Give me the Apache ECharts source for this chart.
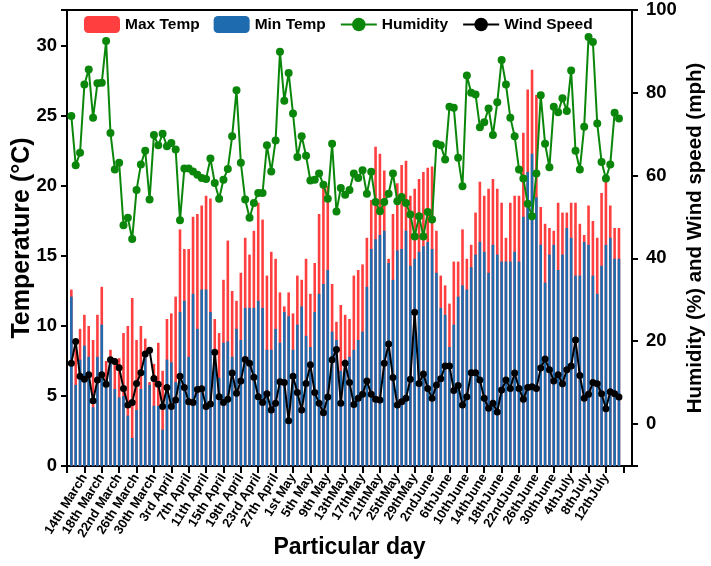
<!DOCTYPE html>
<html><head><meta charset="utf-8">
<script src="https://cdn.jsdelivr.net/npm/echarts@6/dist/echarts.min.js"></script>
<style>html,body{margin:0;padding:0;background:#fff}#c{width:711px;height:566px}</style>
</head><body><div id="c"></div>
<script>
const tickLabels = ["14th March","18th March","22nd March","26th March","30th March","3rd April","7th April","11th April","15th April","19th April","23rd April","27th April","1st May","5th May","9th May","13thMay","17thMay","21thMay","25thMay","29thMay","2ndJune","6thJune","10thJune","14thJune","18thJune","22ndJune","26thJune","30thJune","4thJuly","8thJuly","12thJuly"];
// daily values, 11 March .. 15 July
const maxTemp = [12.6,9.0,9.8,10.8,10.0,9.0,10.8,12.8,7.5,8.3,
 7.7,7.7,9.5,10.0,12.0,9.0,10.0,9.1,6.0,7.3,
 8.8,6.8,10.5,10.9,12.1,16.9,15.5,15.5,17.8,18.0,
 18.6,19.3,19.1,10.5,9.5,13.3,16.1,12.5,11.8,13.8,
 16.3,15.1,16.8,18.8,17.6,13.6,15.3,14.8,12.4,11.4,
 12.4,10.9,13.6,13.3,14.8,12.3,14.5,18.0,20.0,20.0,
 13.0,10.3,11.5,10.8,10.5,13.6,14.0,14.4,16.3,19.0,
 22.8,22.3,21.1,14.8,18.0,20.2,21.5,21.8,19.3,19.8,
 20.5,21.0,21.3,21.4,16.8,13.6,12.9,11.6,14.6,14.6,
 16.9,14.8,15.8,18.1,20.3,19.3,19.8,20.5,19.8,18.8,
 16.3,18.8,19.3,19.3,23.8,26.9,28.3,26.5,18.5,17.3,
 17.0,16.8,18.8,18.1,18.1,18.8,18.8,17.3,16.5,18.6,
 17.5,16.3,19.5,20.5,18.6,17.0,17.0];
const minTemp = [12.1,5.8,7.6,8.6,7.8,4.2,7.8,10.1,6.1,7.6,
 5.5,4.9,5.0,3.6,2.0,4.0,5.5,7.9,5.8,4.3,
 4.3,2.6,7.6,7.4,6.0,11.0,11.8,7.8,12.3,9.8,
 12.6,12.6,11.0,8.3,6.3,8.8,8.9,7.8,9.8,9.0,
 11.3,11.3,11.3,11.8,11.3,8.3,8.3,9.8,8.8,11.0,
 10.7,8.3,10.1,11.4,9.3,8.5,11.0,12.3,13.0,14.0,
 9.6,9.0,6.8,7.6,7.8,8.3,9.0,9.6,12.8,15.5,
 16.2,16.5,16.8,14.5,13.3,15.4,15.5,16.8,14.3,14.8,
 15.3,15.7,16.0,15.5,13.8,11.3,10.8,8.5,10.1,12.1,
 12.9,12.6,14.2,15.1,16.0,15.3,13.8,15.8,15.1,14.6,
 14.6,14.6,15.3,14.6,17.8,21.0,22.3,19.2,15.8,13.1,
 15.1,15.8,14.0,15.1,17.0,16.3,13.6,13.6,16.0,15.8,
 13.6,12.3,14.3,15.8,16.3,14.8,14.8];
const humidity = [74.4,62.5,65.5,82.0,85.6,74.0,82.3,82.4,92.5,70.3,
 61.5,63.1,48.0,49.8,44.7,56.5,62.7,66.0,54.2,69.8,
 67.3,70.1,67.1,67.9,66.3,49.2,61.7,61.7,61.0,60.2,
 59.4,59.2,64.1,58.2,54.4,59.0,61.6,69.5,80.6,63.1,
 54.2,49.8,53.4,55.8,55.8,67.3,61.0,68.5,89.9,78.1,
 84.8,75.0,64.5,69.5,64.8,58.8,59.0,60.5,57.8,54.4,
 67.7,51.3,57.0,55.4,56.5,60.5,59.4,61.3,55.6,60.9,
 53.6,51.4,53.6,55.6,60.5,53.8,54.8,53.4,50.6,45.3,
 50.2,45.3,51.2,49.4,67.7,67.3,63.9,76.6,76.4,64.3,
 57.4,84.2,80.0,79.6,71.7,72.9,76.2,69.8,77.7,87.9,
 82.0,74.0,69.5,61.5,59.3,53.2,50.2,60.5,79.4,67.7,
 62.0,76.6,75.3,78.7,75.6,85.4,66.0,61.5,71.8,93.5,
 92.3,72.6,63.3,59.3,62.7,75.2,73.8];
const windSpeed = [14.7,19.9,11.5,10.8,11.9,5.6,10.6,11.9,9.6,15.5,
 15.1,13.6,8.6,4.6,5.2,9.8,12.4,16.9,17.8,11.0,
 9.6,4.2,8.8,4.2,5.8,11.5,8.8,5.4,5.2,8.3,
 8.5,4.2,4.8,17.3,6.6,5.2,6.0,12.3,7.4,10.4,
 15.6,14.7,11.3,6.6,5.2,7.3,3.4,5.0,10.2,10.0,
 0.8,11.5,7.6,3.4,9.8,14.3,7.6,5.0,2.7,6.5,
 15.5,18.0,5.0,14.7,10.0,4.7,6.2,7.2,10.4,7.2,
 6.0,5.8,14.7,19.3,11.2,4.6,5.4,6.2,10.8,27.0,
 9.8,12.1,8.6,6.2,9.4,10.9,14.0,14.0,8.1,9.3,
 4.6,6.6,12.4,12.4,10.6,6.2,3.8,5.0,2.9,8.2,
 10.6,8.6,12.3,8.6,6.0,8.8,9.0,8.6,13.5,15.7,
 13.1,10.4,11.9,9.7,13.1,14.0,20.3,11.7,6.2,7.2,
 10.0,9.7,7.3,3.7,7.8,7.3,6.5];

// axis categories: every day from 10 March to 18 July
const monthSpans = [['March',10,31],['April',1,30],['May',1,31],['June',1,30],['July',1,18]];
const categories = [];
monthSpans.forEach(function(s){ for (let d = s[1]; d <= s[2]; d++) categories.push(d + ' ' + s[0]); });
const pad = arr => ['-'].concat(arr);

const FONT = '"Liberation Sans", Arial, Helvetica, sans-serif';
const bold = (size) => ({fontSize: size, fontWeight: 'bold', color: '#000', fontFamily: FONT});

const chart = echarts.init(document.getElementById('c'), null, {renderer: 'canvas'});
chart.setOption({
  animation: false,
  backgroundColor: '#fff',
  grid: {left: 67, right: 79, top: 10, bottom: 100, containLabel: false, outerBoundsMode: 'none',
         show: true, borderColor: '#000', borderWidth: 2},
  legend: {
    top: 11, left: 79, itemWidth: 36, itemHeight: 17, itemGap: 14,
    textStyle: bold(15.5),
    data: ['Max Temp', 'Min Temp', 'Humidity', 'Wind Speed']
  },
  xAxis: {
    type: 'category', data: categories, boundaryGap: false,
    axisLine: {lineStyle: {color: '#000', width: 2}},
    axisTick: {interval: 3, length: 7, lineStyle: {color: '#000', width: 2}},
    axisLabel: Object.assign(bold(13), {
      interval: 3, rotate: 58, margin: 9,
      formatter: function (v, i) { return (i % 4 === 0 && i >= 4 && i / 4 <= tickLabels.length) ? tickLabels[i / 4 - 1] : ''; }
    }),
    splitLine: {show: false},
    name: 'Particular day', nameLocation: 'middle', nameGap: 70, nameMoveOverlap: false, nameTextStyle: bold(23)
  },
  yAxis: [{
    type: 'value', position: 'left', min: 0, max: 32.57, interval: 5,
    axisLine: {show: true, lineStyle: {color: '#000', width: 2}},
    axisTick: {show: true, length: 6, lineStyle: {color: '#000', width: 2}},
    axisLabel: Object.assign(bold(18.5), {margin: 10, formatter: v => (v % 5 === 0 && v <= 30) ? String(v) : ''}),
    splitLine: {show: false},
    name: 'Temperature (°C)', nameLocation: 'middle', nameRotate: 90, nameGap: 32, nameMoveOverlap: false, nameTextStyle: bold(25)
  }, {
    type: 'value', position: 'right', min: -10.15, max: 100,
    axisLine: {show: true, lineStyle: {color: '#000', width: 2}},
    axisTick: {show: true, length: 6, lineStyle: {color: '#000', width: 2}},
    axisLabel: Object.assign(bold(18.5), {margin: 14, formatter: v => (Math.abs(v % 20) < 1e-6) ? String(v) : ''}),
    splitLine: {show: false},
    name: 'Humidity (%) and Wind speed (mph)', nameLocation: 'middle', nameRotate: 90, nameGap: 53, nameMoveOverlap: false, nameTextStyle: bold(20.5)
  }],
  series: [{
    name: 'Max Temp', type: 'bar', yAxisIndex: 0, data: pad(maxTemp),
    barWidth: 2.6, barGap: '-100%', itemStyle: {color: '#FF3F3F'}
  }, {
    name: 'Min Temp', type: 'bar', yAxisIndex: 0, data: pad(minTemp),
    barWidth: 2.6, barGap: '-100%', itemStyle: {color: '#1E6BAF'}
  }, {
    name: 'Humidity', type: 'line', yAxisIndex: 1, data: pad(humidity),
    symbol: 'circle', symbolSize: 8, showAllSymbol: true,
    itemStyle: {color: '#0A870A'}, lineStyle: {color: '#0A870A', width: 2}
  }, {
    name: 'Wind Speed', type: 'line', yAxisIndex: 1, data: pad(windSpeed),
    symbol: 'circle', symbolSize: 7, showAllSymbol: true,
    itemStyle: {color: '#000'}, lineStyle: {color: '#000', width: 2}
  }]
});
</script>
</body></html>
